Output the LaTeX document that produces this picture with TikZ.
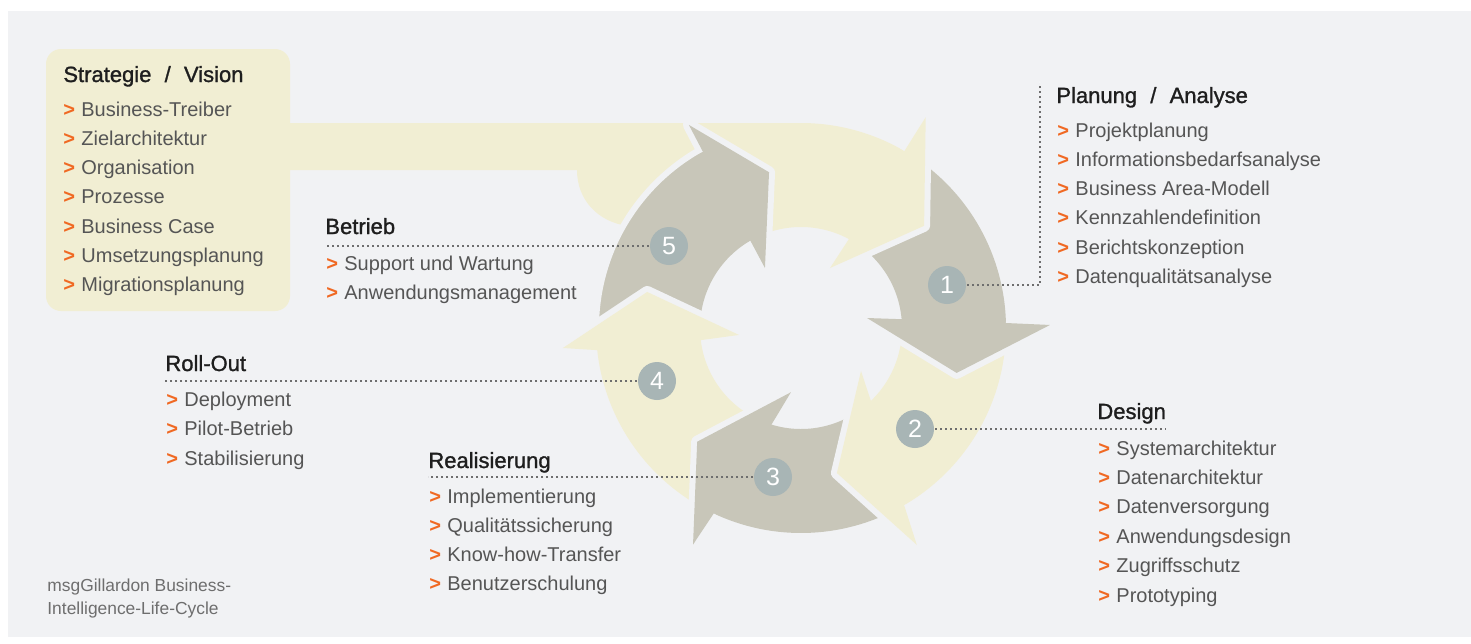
\documentclass[tikz,border=0pt]{standalone}
\usepackage{fontspec}
\setmainfont{Liberation Sans}
\newfontfamily\headfont{Liberation Sans}[FakeBold=1.2]
\usetikzlibrary{positioning}

\definecolor{bggrey}{RGB}{241,242,244}
\definecolor{paleyellow}{RGB}{241,238,211}
\definecolor{arrowgrey}{RGB}{200,198,185}
\definecolor{numgrey}{RGB}{168,181,181}
\definecolor{chevron}{RGB}{240,105,35}
\definecolor{itemgrey}{RGB}{85,85,85}
\definecolor{headblack}{RGB}{30,30,30}
\definecolor{leadergrey}{RGB}{110,110,110}

\newcommand\itm[1]{\makebox[9pt][l]{\textcolor{chevron}{\bfseries >}}#1}
\newcommand\slsh{\hspace{0.6em}/\hspace{0.6em}}

\begin{document}
\begin{tikzpicture}[x=0.5pt,y=0.5pt,
    head/.style={anchor=base west,inner sep=0pt,text=headblack,font=\headfont\fontsize{11pt}{13pt}\selectfont},
    item/.style={anchor=base west,inner sep=0pt,text=itemgrey,font=\fontsize{10pt}{12pt}\selectfont},
    caption/.style={anchor=base west,inner sep=0pt,text=itemgrey!85,font=\fontsize{8.7pt}{11pt}\selectfont},
    num/.style={circle,fill=numgrey,minimum size=19pt,inner sep=0pt,text=white,font=\fontsize{12.5pt}{12.5pt}\selectfont},
    leader/.style={leadergrey,line width=0.8pt,dash pattern=on 1.2pt off 1.3pt},
    gap/.style={draw=bggrey,line width=3pt,line join=round},
    headgap/.style={draw=bggrey,line width=6pt,line join=round}]
  \useasboundingbox (0,0) rectangle (1471,-643);
  \fill[bggrey] (8,-11) rectangle (1471,-637);
  % strategy box with its band into the cycle
  \fill[paleyellow,rounded corners=7.5pt] (46,-49) rectangle (290,-311);
  \begin{scope}[shift={(801,-328)}]
    \fill[paleyellow] (-521,205) -- (0,205) arc[start angle=90,end angle=57.7,radius=205]
      -- (59.7:101) arc[start angle=59.7,end angle=118,radius=101]
      -- (140:150) -- (-173,102) .. controls (-203,106) and (-224,128) .. (-224,158)
      -- (-521,158) -- cycle;
    % arrow bodies, tails run under the heads
    \fill[arrowgrey] (57:205) arc[start angle=57,end angle=-0.6,radius=205] -- (3:101) arc[start angle=3,end angle=58.7,radius=101] -- cycle;
    \fill[paleyellow] (-1.6:205) arc[start angle=-1.6,end angle=-61.8,radius=205] -- (-48.2:101) arc[start angle=-48.2,end angle=2,radius=101] -- cycle;
    \fill[arrowgrey] (-62.8:205) arc[start angle=-62.8,end angle=-117.2,radius=205] -- (-109:101) arc[start angle=-109,end angle=-49.2,radius=101] -- cycle;
    \fill[paleyellow] (-118.2:205) arc[start angle=-118.2,end angle=-175.8,radius=205] -- (-175.1:101) arc[start angle=-175.1,end angle=-110,radius=101] -- cycle;
    \fill[arrowgrey] (-176.8:205) arc[start angle=-176.8,end angle=-242.9,radius=205] -- (-241.9:101) arc[start angle=-241.9,end angle=-176.1,radius=101] -- cycle;
    \draw[gap] (-176.8:205) arc[start angle=-176.8,end angle=-240.9,radius=205];
    % arrow heads, gap first so the tips stay sharp
    \draw[headgap] (59.7:205) -- (59.4:245) -- (39.7:160) -- (64.2:66.6);
    \fill[paleyellow] (59.7:205) -- (59.4:245) -- (39.7:160) -- (64.2:66.6) -- (61.7:101) -- cycle;
    \draw[headgap] (1.4:205) -- (0.7:249) -- (-16.1:162) -- (8.6:66.8);
    \fill[arrowgrey] (1.4:205) -- (0.7:249) -- (-16.1:162) -- (8.6:66.8) -- (5:101) -- cycle;
    \draw[headgap] (-59.8:205) -- (-61.9:246) -- (-76.1:149.4) -- (-35.6:73.8);
    \fill[paleyellow] (-59.8:205) -- (-61.9:246) -- (-76.1:149.4) -- (-35.6:73.8) -- (-46.2:101) -- cycle;
    \draw[headgap] (-115.2:205) -- (-116.5:242) -- (-132.4:154) -- (-98.9:65);
    \fill[arrowgrey] (-115.2:205) -- (-116.5:242) -- (-132.4:154) -- (-98.9:65) -- (-107:101) -- cycle;
    \draw[headgap] (-173.8:205) -- (-175.2:239) -- (-193.2:158) -- (-173.6:62.4);
    \fill[paleyellow] (-173.8:205) -- (-175.2:239) -- (-193.2:158) -- (-173.6:62.4) -- (-173.1:101) -- cycle;
    \draw[headgap] (-240.9:202) -- (-241.1:232) -- (-258.4:159) -- (-239:70);
    \fill[arrowgrey] (-240.9:202) -- (-241.1:232) -- (-258.4:159) -- (-239:70) -- (-239.9:101) -- cycle;
  \end{scope}

  % headings
  \node[head] (hStrat) at (63,-82) {Strategie\slsh Vision};
  \node[head] (hPlan) at (1056,-103) {Planung\slsh Analyse};
  \node[head] (hDesign) at (1097,-419) {Design};
  \node[head] (hReal) at (428,-468) {Realisierung};
  \node[head] (hRoll) at (165,-371) {Roll-Out};
  \node[head] (hBetr) at (325,-234) {Betrieb};

  % lists
  \foreach \entry [count=\i from 0] in {Business-Treiber,Zielarchitektur,Organisation,Prozesse,Business Case,Umsetzungsplanung,Migrationsplanung}
    \node[item] (strat\i) at (63,{-116-29.3*\i}) {\itm{\entry}};
  \foreach \entry [count=\i from 0] in {Projektplanung,Informationsbedarfsanalyse,Business Area-Modell,Kennzahlendefinition,Berichtskonzeption,Datenqualitätsanalyse}
    \node[item] (plan\i) at (1057,{-137-29.3*\i}) {\itm{\entry}};
  \foreach \entry [count=\i from 0] in {Systemarchitektur,Datenarchitektur,Datenversorgung,Anwendungsdesign,Zugriffsschutz,Prototyping}
    \node[item] (design\i) at (1098,{-455-29.4*\i}) {\itm{\entry}};
  \foreach \entry [count=\i from 0] in {Implementierung,Qualitätssicherung,Know-how-Transfer,Benutzerschulung}
    \node[item] (real\i) at (429,{-503-29.3*\i}) {\itm{\entry}};
  \foreach \entry [count=\i from 0] in {Deployment,Pilot-Betrieb,Stabilisierung}
    \node[item] (roll\i) at (166,{-406-29.5*\i}) {\itm{\entry}};
  \foreach \entry [count=\i from 0] in {Support und Wartung,Anwendungsmanagement}
    \node[item] (betr\i) at (326,{-270-29.3*\i}) {\itm{\entry}};

  \node[caption] (cap1) at (47,-591) {msgGillardon Business-};
  \node[caption] (cap2) at (47,-614) {Intelligence-Life-Cycle};

  % number markers and leader lines
  \coordinate (planTop) at (1040,-85);
  \coordinate (n1pos) at (947,-285);
  \draw[leader] (n1pos) -- (n1pos -| planTop) -- (planTop);
  \coordinate (n2pos) at (915,-429);
  \draw[leader] (n2pos) -- (n2pos -| hDesign.east);
  \coordinate (n3pos) at (773,-477);
  \draw[leader] (n3pos) -- (n3pos -| hReal.west);
  \coordinate (n4pos) at (657,-381);
  \draw[leader] (n4pos) -- (n4pos -| hRoll.west);
  \coordinate (n5pos) at (669,-246);
  \draw[leader] (n5pos) -- (n5pos -| hBetr.west);
  \node[num] (n1) at (n1pos) {1};
  \node[num] (n2) at (n2pos) {2};
  \node[num] (n3) at (n3pos) {3};
  \node[num] (n4) at (n4pos) {4};
  \node[num] (n5) at (n5pos) {5};
\end{tikzpicture}
\end{document}
